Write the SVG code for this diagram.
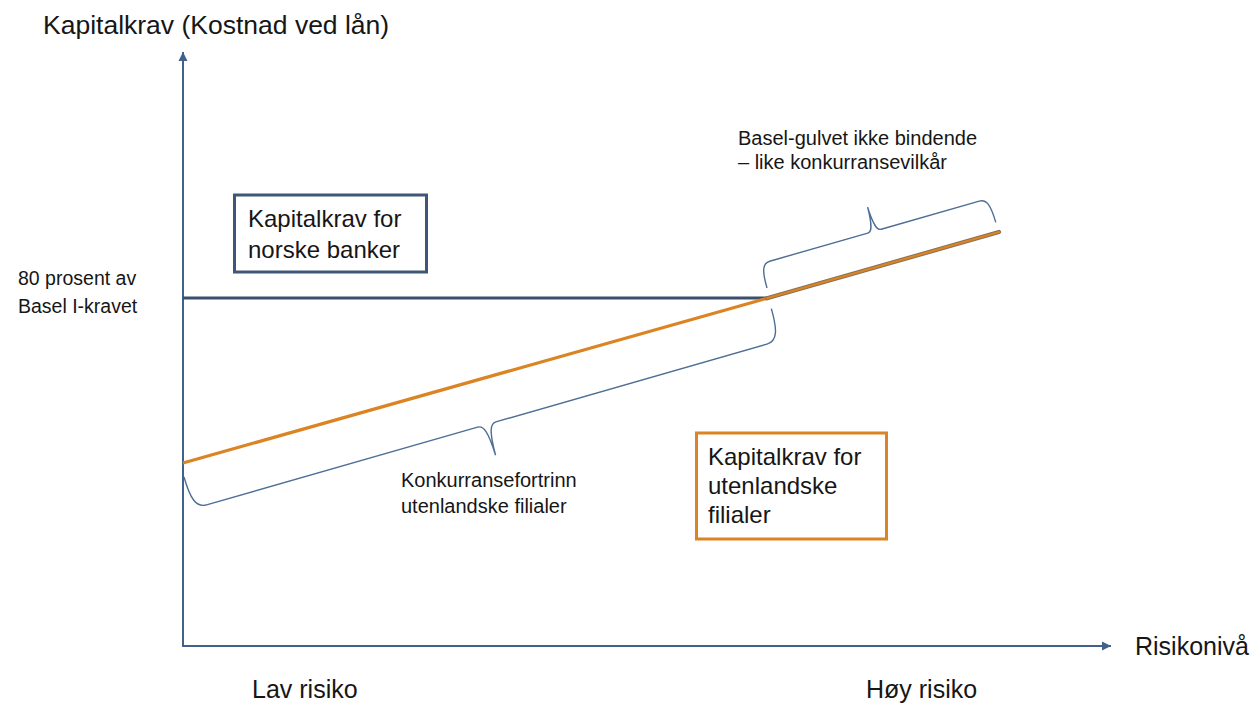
<svg xmlns="http://www.w3.org/2000/svg" width="1255" height="704" viewBox="0 0 1255 704">
<style>
text{font-family:"Liberation Sans",Arial,sans-serif;fill:#161616}
.big{font-size:25px}
.box{font-size:24px}
.small{font-size:19.5px}
.axis{stroke:#41618A;stroke-width:2;fill:none}
.brace{stroke:#4D6E95;stroke-width:1.4;fill:none}
</style>
<defs>
<marker id="arr" markerUnits="userSpaceOnUse" markerWidth="10" markerHeight="10" refX="9" refY="5" orient="auto">
<path d="M0,0.5 L9,5 L0,9.5 Z" fill="#41618A"/>
</marker>
</defs>
<rect width="1255" height="704" fill="#ffffff"/>
<g id="connectors">
<line class="axis" x1="183" y1="646" x2="183" y2="52" marker-end="url(#arr)"/>
<line class="axis" x1="182" y1="646" x2="1111" y2="646" marker-end="url(#arr)"/>
<line x1="183" y1="298" x2="768" y2="298" stroke="#3A4F6E" stroke-width="3"/>
<line x1="183" y1="463" x2="768" y2="298" stroke="#DA8424" stroke-width="3.2"/>
<line x1="767" y1="298.3" x2="999" y2="232" stroke="#8A7156" stroke-width="4.2" stroke-linecap="round"/>
<line x1="767" y1="298.3" x2="999" y2="232" stroke="#DA8424" stroke-width="2.2" stroke-linecap="round"/>
<path id="brace-lower" class="brace" transform="translate(184,477) rotate(-16)" d="M0,0 C0,22 3,33 14,33 L296,33 C302,33 305,40 305.5,65 C306,40 309,33 315,33 L597,33 C608,33 611,22 611,0"/>
<path id="brace-upper" class="brace" transform="translate(767,288) rotate(-16)" d="M0,0 C0,-17 2,-25 10,-25 L112,-25 C116,-25 118.5,-30 119,-50 C119.5,-30 122,-25 126,-25 L228,-25 C236,-25 238,-17 238,0"/>
</g>
<g id="title"><text class="big" x="43" y="34" style="font-size:26.5px">Kapitalkrav (Kostnad ved lån)</text></g>
<g id="label-80"><text class="small" x="18" y="285">80 prosent av</text><text class="small" x="18" y="313">Basel I-kravet</text></g>
<g id="node-norske">
<rect x="234.5" y="195" width="192" height="77" fill="#ffffff" stroke="#3E5677" stroke-width="3"/>
<text class="box" x="248" y="227">Kapitalkrav for</text>
<text class="box" x="248" y="258">norske banker</text>
</g>
<g id="node-utenlandske">
<rect x="696.5" y="433" width="190" height="106" fill="#ffffff" stroke="#DA8424" stroke-width="3"/>
<text class="box" x="708" y="465">Kapitalkrav for</text>
<text class="box" x="708" y="494">utenlandske</text>
<text class="box" x="708" y="523">filialer</text>
</g>
<g id="label-basel"><text class="small" x="738" y="145" style="font-size:20px">Basel-gulvet ikke bindende</text><text class="small" x="738" y="169" style="font-size:20px">– like konkurransevilkår</text></g>
<g id="label-konkurranse"><text class="small" x="401" y="487" style="font-size:20px">Konkurransefortrinn</text><text class="small" x="401" y="513" style="font-size:20px">utenlandske filialer</text></g>
<g id="label-risikoniva"><text class="big" x="1135" y="655">Risikonivå</text></g>
<g id="label-lav"><text class="big" x="252" y="698">Lav risiko</text></g>
<g id="label-hoy"><text class="big" x="866" y="698">Høy risiko</text></g>
</svg>
